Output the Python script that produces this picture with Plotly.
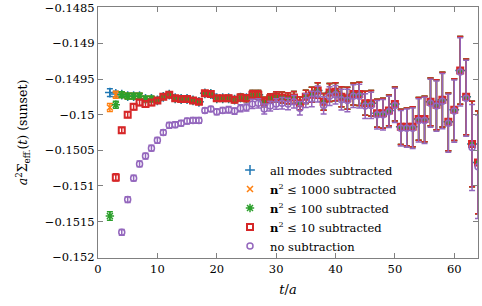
import plotly.graph_objects as go

# ---------------- data ----------------
t_all = list(range(2, 65))          # t/a = 2 .. 64
t_red = list(range(3, 65))          # red starts at t=3 (t=2 off-scale)
t_purple = list(range(4, 65))       # purple starts at t=4

# values common to all subtracted series for t = 10 .. 64
late_common = [
    -0.14980, -0.14975, -0.14972, -0.14977, -0.14978, -0.14978, -0.14980, -0.14982,
    -0.14970, -0.14971, -0.14977, -0.14977, -0.14977, -0.14979, -0.14976, -0.14977,
    -0.14972, -0.14972, -0.14982, -0.14977, -0.14975, -0.14976, -0.14977, -0.14976,
    -0.14984, -0.14975, -0.14972, -0.14966, -0.14982, -0.14969, -0.14968, -0.14975,
    -0.14977, -0.14971, -0.14971, -0.14984, -0.14984, -0.14998, -0.14998, -0.14994,
    -0.14985, -0.15017, -0.15017, -0.15017, -0.15006, -0.15006, -0.14982, -0.14986,
    -0.14979, -0.15010, -0.14993, -0.14938, -0.14975, -0.15041, -0.15067,
]
late_common_err = [
    0.000030, 0.000030, 0.000030, 0.000030, 0.000030, 0.000030, 0.000030, 0.000030,
    0.000030, 0.000030, 0.000035, 0.000035, 0.000040, 0.000040, 0.000045, 0.000045,
    0.000060, 0.000060, 0.000065, 0.000065, 0.000070, 0.000078, 0.000078, 0.000084,
    0.000092, 0.000094, 0.000106, 0.000108, 0.000117, 0.000126, 0.000126, 0.000140,
    0.000154, 0.000154, 0.000163, 0.000168, 0.000180, 0.000196, 0.000210, 0.000216,
    0.000237, 0.000247, 0.000265, 0.000280, 0.000300, 0.000320, 0.000335, 0.000350,
    0.000384, 0.000405, 0.000433, 0.000475, 0.000530, 0.000600, 0.000720,
]

# early values t = 2 .. 9
all_modes_early = [-0.14969, -0.14971, -0.14972, -0.14974, -0.14974, -0.14974, -0.14978, -0.14978]
all_modes_early_err = [0.000055, 0.00004, 0.00004, 0.00004, 0.00004, 0.00004, 0.00004, 0.00004]
n1000_early = [-0.14990, -0.14972, -0.14972, -0.14974, -0.14974, -0.14974, -0.14978, -0.14978]
n1000_early_err = [0.000055, 0.00005, 0.00004, 0.00004, 0.00004, 0.00004, 0.00004, 0.00004]
n100_early = [-0.15142, -0.14986, -0.14972, -0.14974, -0.14974, -0.14974, -0.14978, -0.14978]
n100_early_err = [0.00006, 0.00005, 0.00004, 0.00004, 0.00004, 0.00004, 0.00004, 0.00004]
# red early values t = 3 .. 9
n10_early = [-0.15088, -0.15022, -0.15000, -0.14989, -0.14983, -0.14985, -0.14983]
n10_early_err = [0.00005, 0.00004, 0.00004, 0.00004, 0.00004, 0.00004, 0.00004]

all_modes = all_modes_early + late_common
all_modes_err = all_modes_early_err + late_common_err
n1000 = n1000_early + late_common
n1000_err = n1000_early_err + late_common_err
n100 = n100_early + late_common
n100_err = n100_early_err + late_common_err
n10 = n10_early + late_common
n10_err = n10_early_err + late_common_err

no_sub = [
    -0.15165, -0.15119, -0.15089, -0.15069, -0.15058, -0.15047, -0.15036, -0.15025,
    -0.15015, -0.15014, -0.15012, -0.15009, -0.15008, -0.15008,
    -0.14994, -0.14992, -0.14996, -0.14994, -0.14993, -0.14995, -0.14991, -0.14990,
    -0.14985, -0.14984, -0.14992, -0.14988, -0.14985, -0.14984, -0.14985, -0.14982,
    -0.14991, -0.14980, -0.14978, -0.14971, -0.14987, -0.14974, -0.14972, -0.14979,
    -0.14980, -0.14974, -0.14974, -0.14988, -0.14987, -0.15000, -0.15000, -0.14996,
    -0.14987, -0.15019, -0.15019, -0.15019, -0.15008, -0.15008, -0.14984, -0.14988,
    -0.14981, -0.15012, -0.14995, -0.14940, -0.14977, -0.15046, -0.15073,
]
no_sub_err = [
    0.00004, 0.00004, 0.00004, 0.00004, 0.00004, 0.00004, 0.00004, 0.00004,
    0.00004, 0.00004, 0.00004, 0.00004, 0.00004, 0.00004,
    0.000035, 0.000035, 0.000040, 0.000040, 0.000045, 0.000045, 0.000050, 0.000050,
    0.000065, 0.000065, 0.000070, 0.000070, 0.000075, 0.000082, 0.000082, 0.000088,
    0.000096, 0.000098, 0.000110, 0.000112, 0.000121, 0.000130, 0.000130, 0.000145,
    0.000158, 0.000158, 0.000167, 0.000172, 0.000184, 0.000200, 0.000214, 0.000220,
    0.000240, 0.000250, 0.000268, 0.000283, 0.000303, 0.000323, 0.000338, 0.000353,
    0.000387, 0.000408, 0.000436, 0.000478, 0.000533, 0.000603, 0.000725,
]

y_ticks = [-0.1485, -0.149, -0.1495, -0.15, -0.1505, -0.151, -0.1515, -0.152]
y_tick_labels = ["−0.1485", "−0.149", "−0.1495", "−0.15", "−0.1505", "−0.151", "−0.1515", "−0.152"]
x_ticks = [0, 10, 20, 30, 40, 50, 60]

labels = [
    "all modes subtracted",
    "<b>n</b><sup>2</sup> ≤ 1000 subtracted",
    "<b>n</b><sup>2</sup> ≤ 100 subtracted",
    "<b>n</b><sup>2</sup> ≤ 10 subtracted",
    "no subtraction",
]
colors = ["#1f77b4", "#ff7f0e", "#2ca02c", "#d62728", "#9467bd"]

# ---------------- figure ----------------
FONT = "DejaVu Serif"
fig = go.Figure()

series = [
    (t_all, all_modes, all_modes_err, "cross-thin", 7, 1.5),
    (t_all, n1000, n1000_err, "x-thin", 6, 1.5),
    (t_all, n100, n100_err, "asterisk-open", 7, 1.5),
    (t_red, n10, n10_err, "square-open", 6, 2),
    (t_purple, no_sub, no_sub_err, "circle-open", 6, 1.5),
]
for (tx, vy, ey, sym, sz, lw), name, col in zip(series, labels, colors):
    fig.add_trace(go.Scatter(
        x=tx, y=vy, mode="markers", name=name,
        marker=dict(symbol=sym, size=sz, color=col, line=dict(color=col, width=lw)),
        error_y=dict(type="data", array=ey, visible=True, color=col, thickness=1.5, width=3),
        cliponaxis=True,
    ))

axis_common = dict(
    showline=True, linecolor="#808080", linewidth=1, mirror="allticks",
    ticks="inside", ticklen=5, tickcolor="#808080", showgrid=False, zeroline=False,
    tickfont=dict(family=FONT, size=11.5, color="black"), automargin=False,
)
fig.update_xaxes(range=[0, 64], tickvals=x_ticks,
                 title=dict(text="<i>t</i>/<i>a</i>", font=dict(family=FONT, size=13, color="black"), standoff=10),
                 **axis_common)
fig.update_yaxes(range=[-0.15201, -0.14849], tickvals=y_ticks, ticktext=y_tick_labels,
                 title=dict(text="<i>a</i><sup>2</sup>Σ<sub>eff.</sub>(<i>t</i>) (sunset)",
                            font=dict(family=FONT, size=12.5, color="black"), standoff=14),
                 **axis_common)

fig.update_layout(
    width=482, height=306,
    margin=dict(l=98, r=4, t=7, b=48, autoexpand=False),
    paper_bgcolor="white", plot_bgcolor="white",
    font=dict(family=FONT, size=12, color="black"),
    legend=dict(x=0.80, xanchor="right", y=-0.01, yanchor="bottom",
                bgcolor="rgba(0,0,0,0)", font=dict(family=FONT, size=11.5, color="black"),
                itemwidth=30, tracegroupgap=0),
)

fig.write_html("out.html",
               config={"displayModeBar": False},
               post_script="document.body.style.margin='0';document.body.style.padding='0';")
